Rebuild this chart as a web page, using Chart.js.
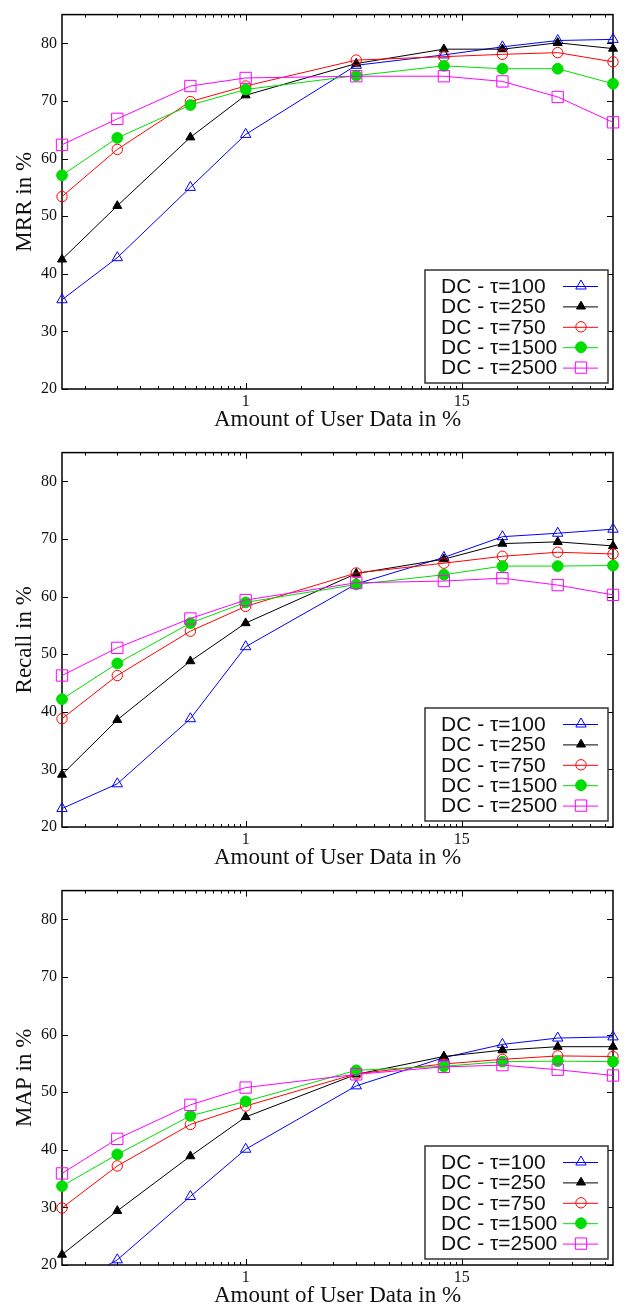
<!DOCTYPE html>
<html>
<head>
<meta charset="utf-8">
<title>MRR / Recall / MAP vs amount of user data</title>
<script src="https://cdn.jsdelivr.net/npm/chart.js@4.4.0/dist/chart.umd.min.js"></script>
<style>
  html, body { margin: 0; padding: 0; background: #fff; overflow: hidden; }
  canvas { display: block; }
</style>
</head>
<body>
<canvas id="mrrChart" width="624" height="438"></canvas>
<canvas id="recallChart" width="624" height="438"></canvas>
<canvas id="mapChart" width="624" height="438"></canvas>
<script>
// x positions (amount of user data, %), log axis
const xValues = [0.1, 0.2, 0.5, 1, 4, 12, 25, 50, 100];
const xTickLabels = [1, 15];
// gnuplot base-15 minor tics
const xMinorTicks = [2, 3, 4, 5, 6, 7, 8, 9, 10, 11, 12, 13, 14]
  .flatMap(k => [k / 15, k, k * 15])
  .filter(v => v < 100);
const yTicks = [20, 30, 40, 50, 60, 70, 80];

const seriesLabels = ['DC - τ=100', 'DC - τ=250', 'DC - τ=750', 'DC - τ=1500', 'DC - τ=2500'];

const mrr100  = [35.5, 42.8, 55.0, 64.2, 76.2, 78.0, 79.4, 80.5, 80.7];
const mrr250  = [42.5, 51.8, 63.7, 71.0, 76.5, 79.0, 79.0, 80.1, 79.1];
const mrr750  = [53.4, 61.6, 69.9, 72.6, 77.1, 77.7, 78.1, 78.4, 76.8];
const mrr1500 = [57.1, 63.6, 69.3, 72.0, 74.4, 76.1, 75.6, 75.6, 73.0];
const mrr2500 = [62.4, 66.9, 72.6, 74.0, 74.3, 74.3, 73.4, 70.7, 66.3];

const recall100  = [23.2, 27.5, 38.8, 51.3, 62.2, 66.8, 70.4, 71.0, 71.7];
const recall250  = [29.1, 38.6, 48.8, 55.4, 64.0, 66.5, 69.2, 69.5, 68.8];
const recall750  = [38.8, 46.3, 54.0, 58.3, 64.1, 65.8, 67.0, 67.7, 67.4];
const recall1500 = [42.2, 48.4, 55.4, 59.0, 62.1, 63.8, 65.3, 65.3, 65.4];
const recall2500 = [46.3, 51.1, 56.2, 59.4, 62.4, 62.7, 63.2, 62.0, 60.3];

const map100  = [15.5, 20.9, 31.9, 40.1, 51.1, 56.0, 58.3, 59.4, 59.6];
const map250  = [21.8, 29.4, 38.9, 45.7, 53.1, 56.2, 57.3, 57.9, 57.9];
const map750  = [29.9, 37.2, 44.4, 47.6, 53.2, 54.9, 55.7, 56.3, 56.2];
const map1500 = [33.7, 39.2, 45.9, 48.4, 53.8, 54.5, 55.3, 55.4, 55.3];
const map2500 = [35.9, 41.9, 47.8, 50.8, 53.1, 54.4, 54.7, 53.9, 52.9];

const SERIF = "'Liberation Serif', 'Times New Roman', serif";
const SANS = "'Liberation Sans', Arial, sans-serif";
const TEXT = '#111';

const seriesStyles = [
  { color: '#0000ff', pointStyle: 'triangle', radius: 6,   filled: false },
  { color: '#000000', pointStyle: 'triangle', radius: 5.2, filled: true },
  { color: '#ff0000', pointStyle: 'circle',   radius: 5.2, filled: false },
  { color: '#00dd00', pointStyle: 'circle',   radius: 5.4, filled: true },
  { color: '#ff00ff', pointStyle: 'rect',     radius: 8,   filled: false },
];

function drawMarker(ctx, st, x, y) {
  ctx.save();
  ctx.strokeStyle = st.color;
  ctx.fillStyle = st.filled ? st.color : 'rgba(0,0,0,0)';
  ctx.lineWidth = 1;
  if (Chart.helpers && Chart.helpers.drawPoint) {
    Chart.helpers.drawPoint(ctx, { pointStyle: st.pointStyle, radius: st.radius, rotation: 0, borderWidth: 1 }, x, y);
  } else {
    ctx.beginPath();
    if (st.pointStyle === 'circle') {
      ctx.arc(x, y, st.radius, 0, Math.PI * 2);
    } else if (st.pointStyle === 'rect') {
      const s = st.radius * Math.SQRT1_2;
      ctx.rect(x - s, y - s, 2 * s, 2 * s);
    } else {
      const r = st.radius;
      ctx.moveTo(x, y - r);
      ctx.lineTo(x + r * 0.866, y + r / 2);
      ctx.lineTo(x - r * 0.866, y + r / 2);
      ctx.closePath();
    }
    ctx.fill();
    ctx.stroke();
  }
  ctx.restore();
}

// border + inward tics like gnuplot
const framePlugin = {
  id: 'gnuplotFrame',
  beforeDatasetsDraw(chart) {
    const { ctx, chartArea: a, scales: { x, y } } = chart;
    ctx.save();
    ctx.strokeStyle = '#000';
    ctx.lineWidth = 1;
    const seg = (x1, y1, x2, y2) => { ctx.beginPath(); ctx.moveTo(x1, y1); ctx.lineTo(x2, y2); ctx.stroke(); };
    xTickLabels.forEach(v => {
      const px = Math.round(x.getPixelForValue(v)) + 0.5;
      seg(px, a.bottom, px, a.bottom - 6);
      seg(px, a.top, px, a.top + 6);
    });
    xMinorTicks.forEach(v => {
      const px = Math.round(x.getPixelForValue(v)) + 0.5;
      seg(px, a.bottom, px, a.bottom - 3);
      seg(px, a.top, px, a.top + 3);
    });
    yTicks.forEach(v => {
      const py = Math.round(y.getPixelForValue(v)) + 0.5;
      seg(a.left, py, a.left + 6, py);
      seg(a.right, py, a.right - 6, py);
    });
    ctx.lineWidth = 1.5;
    ctx.strokeRect(a.left, a.top, a.right - a.left, a.bottom - a.top);
    ctx.restore();
  },
  afterDatasetsDraw(chart) {
    const { ctx, chartArea: a } = chart;
    const w = 183, h = 113;
    const left = a.right - 5 - w;
    const top = a.bottom - 6 - h;
    ctx.save();
    ctx.fillStyle = '#fff';
    ctx.fillRect(left, top, w, h);
    ctx.strokeStyle = '#333';
    ctx.lineWidth = 1.5;
    ctx.strokeRect(left, top, w, h);
    ctx.font = '21px ' + SANS;
    ctx.textBaseline = 'middle';
    ctx.textAlign = 'left';
    chart.data.datasets.forEach((ds, i) => {
      const st = seriesStyles[i];
      const cy = top + 16 + i * 20.4;
      ctx.fillStyle = TEXT;
      ctx.fillText(ds.label, left + 16, cy + 1);
      ctx.strokeStyle = st.color;
      ctx.lineWidth = 1;
      ctx.beginPath();
      ctx.moveTo(left + 138, cy + 0.5);
      ctx.lineTo(left + 173, cy + 0.5);
      ctx.stroke();
      drawMarker(ctx, st, left + 156, cy);
    });
    ctx.restore();
  }
};

function makeChart(canvasId, yTitle, seriesValues) {
  const ctx = document.getElementById(canvasId).getContext('2d');
  return new Chart(ctx, {
    type: 'line',
    data: {
      datasets: seriesValues.map((vals, i) => {
        const st = seriesStyles[i];
        return {
          label: seriesLabels[i],
          data: xValues.map((x, j) => ({ x: x, y: vals[j] })),
          borderColor: st.color,
          borderWidth: 1,
          backgroundColor: st.filled ? st.color : 'rgba(0,0,0,0)',
          pointStyle: st.pointStyle,
          pointRadius: st.radius,
          pointBorderWidth: 1,
          pointBorderColor: st.color,
          pointBackgroundColor: st.filled ? st.color : 'rgba(0,0,0,0)',
          tension: 0,
          clip: { left: 12, right: 12, top: 12, bottom: 0 },
          order: seriesStyles.length - 1 - i
        };
      })
    },
    options: {
      responsive: false,
      animation: false,
      events: [],
      layout: { padding: { top: 6, right: 11, bottom: 0, left: 0 } },
      plugins: { legend: { display: false }, tooltip: { enabled: false } },
      scales: {
        x: {
          type: 'logarithmic',
          min: 0.1,
          max: 100,
          afterBuildTicks: ax => { ax.ticks = xTickLabels.map(v => ({ value: v })); },
          afterFit: ax => { ax.height = 49; },
          grid: { display: false, drawTicks: false },
          border: { display: false },
          ticks: {
            autoSkip: false,
            maxRotation: 0,
            padding: 3,
            color: TEXT,
            font: { family: SERIF, size: 16 },
            callback: v => String(v)
          },
          title: {
            display: true,
            text: 'Amount of User Data in %',
            color: TEXT,
            font: { family: SERIF, size: 23 },
            padding: { top: 0, bottom: 4 }
          }
        },
        y: {
          type: 'linear',
          min: 20,
          max: 85,
          afterBuildTicks: ax => { ax.ticks = yTicks.map(v => ({ value: v })); },
          afterFit: ax => { ax.width = 62; },
          grid: { display: false, drawTicks: false },
          border: { display: false },
          ticks: {
            padding: 5,
            color: TEXT,
            font: { family: SERIF, size: 16 }
          },
          title: {
            display: true,
            text: yTitle,
            color: TEXT,
            font: { family: SERIF, size: 23 },
            padding: { top: 11, bottom: 0 }
          }
        }
      }
    },
    plugins: [framePlugin]
  });
}

makeChart('mrrChart', 'MRR in %', [mrr100, mrr250, mrr750, mrr1500, mrr2500]);
makeChart('recallChart', 'Recall in %', [recall100, recall250, recall750, recall1500, recall2500]);
makeChart('mapChart', 'MAP in %', [map100, map250, map750, map1500, map2500]);
</script>
</body>
</html>
